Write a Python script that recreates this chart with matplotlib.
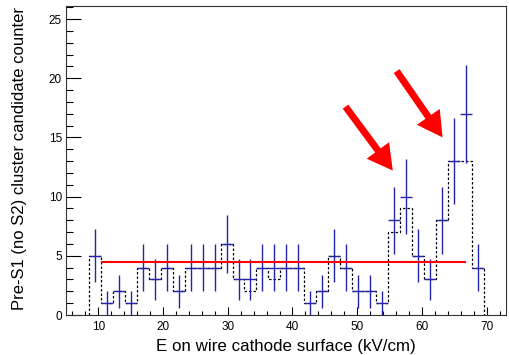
import numpy as np
import matplotlib
matplotlib.use("Agg")
import matplotlib.pyplot as plt
from matplotlib.patches import FancyArrowPatch, ArrowStyle

# ---- data ----
bin_low = 8.56
bin_width = 1.848
n_bins = 33
data_counts = [5, 1, 2, 1, 4, 3, 4, 2, 4, 4, 4, 6, 3, 3, 4, 4, 4, 4, 1, 2, 5, 4, 2, 2, 1,
               8, 10, 5, 3, 8, 13, 17, 4]
ref_counts = [5, 1, 2, 1, 4, 3, 4, 2, 4, 4, 4, 6, 3, 2, 4, 3, 4, 4, 1, 2, 5, 4, 2, 2, 1,
              7, 9, 5, 3, 8, 13, 13, 4]
fit_level = 4.46
fit_range = [10.6, 66.7]
arrows = [((48.2, 17.6), (55.5, 12.2)), ((56.1, 20.6), (63.2, 15.0))]
x_ticks = [10, 20, 30, 40, 50, 60, 70]
y_ticks = [0, 5, 10, 15, 20, 25]
xlabel = "E on wire cathode surface (kV/cm)"
ylabel = "Pre-S1 (no S2) cluster candidate counter"

plt.rcParams['font.family'] = ['Liberation Sans', 'DejaVu Sans']

edges = bin_low + bin_width * np.arange(n_bins + 1)
centers = 0.5 * (edges[:-1] + edges[1:])
data = np.array(data_counts, dtype=float)

fig = plt.figure(figsize=(5.09, 3.55), dpi=100)
ax = fig.add_axes([66/509, 1 - 315/355, (506 - 66)/509, (315 - 6)/355])

ax.stairs(ref_counts, edges, baseline=0, color='black', lw=0.9,
          linestyle=(0, (2.0, 1.6)), zorder=2)
ax.errorbar(centers, data, yerr=np.sqrt(data), xerr=bin_width / 2, fmt='none',
            ecolor='#2424a8', elinewidth=1.0, capsize=0, zorder=3)
ax.plot(fit_range, [fit_level, fit_level], color='#ff0000', lw=1.5, zorder=4)

for tail, tip in arrows:
    st = ArrowStyle.Simple(head_length=18, head_width=20, tail_width=5)
    p = FancyArrowPatch(tail, tip, arrowstyle=st, mutation_scale=1,
                        color='#ff0000', shrinkA=0, shrinkB=0, zorder=5, lw=0)
    ax.add_patch(p)

ax.set_xlim(5, 73)
ax.set_ylim(0, 26.1)
ax.set_xticks(x_ticks)
ax.set_yticks(y_ticks)
ax.set_xticks(np.arange(6, 73, 2), minor=True)
ax.set_yticks(np.arange(0, 27, 1), minor=True)
ax.tick_params(axis='both', which='both', direction='in', colors='black',
               labelsize=8.5, width=0.8)
ax.tick_params(axis='x', which='major', length=5.8, pad=4)
ax.tick_params(axis='x', which='minor', length=2.9)
ax.tick_params(axis='y', which='major', length=10.5, pad=3)
ax.tick_params(axis='y', which='minor', length=5)
ax.tick_params(top=False, right=False)
for s in ax.spines.values():
    s.set_linewidth(0.8)
    s.set_color('#333333')

fig.text(286/509, 1 - 351/355, xlabel, ha='center', va='baseline', fontsize=12.2)
fig.text(19.5/509, 1 - 158/355, ylabel, ha='center', va='center', rotation=90,
         fontsize=12)

fig.savefig("out.png", dpi=100)
